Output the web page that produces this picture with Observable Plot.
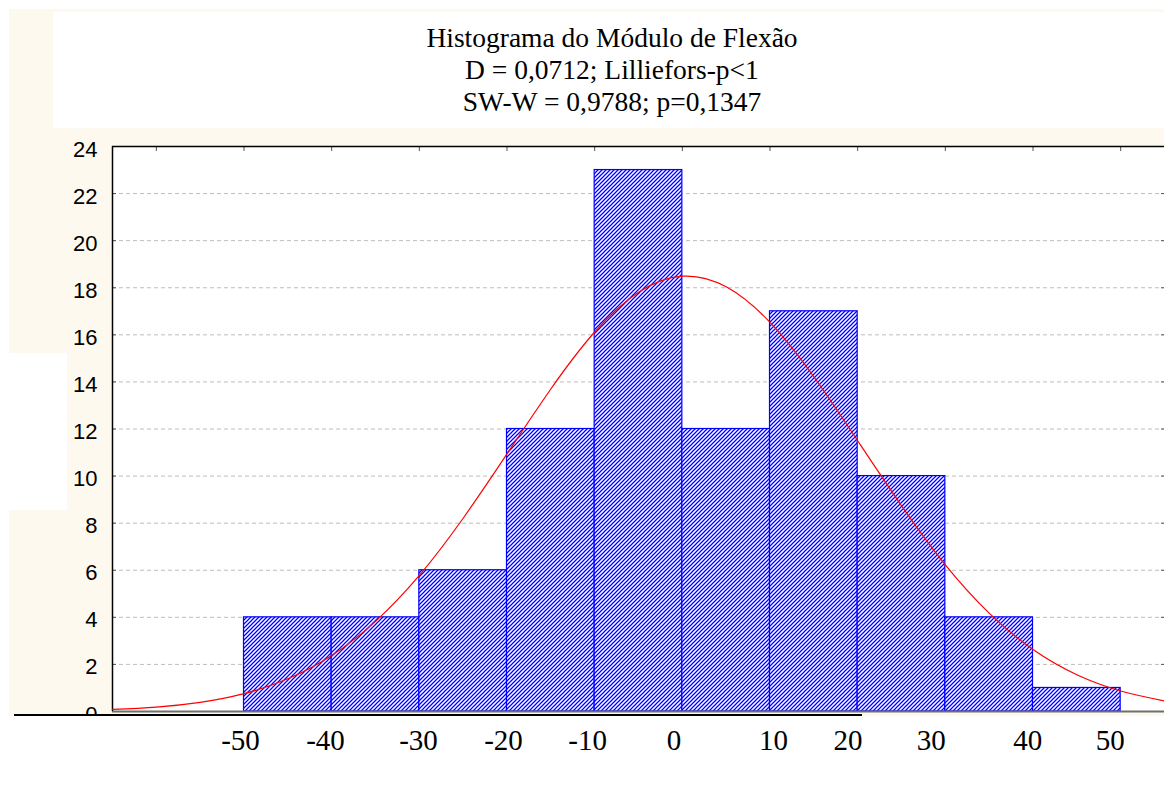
<!DOCTYPE html>
<html>
<head>
<meta charset="utf-8">
<script src="https://cdn.jsdelivr.net/npm/d3@7"></script>
<script src="https://cdn.jsdelivr.net/npm/@observablehq/plot@0.6"></script>
<style>
  html, body { margin: 0; padding: 0; background: #ffffff; }
  #wrap { position: relative; width: 1164px; height: 791px; overflow: hidden; background: #ffffff; }
  .bg { position: absolute; }
  #title { position: absolute; left: 262px; width: 700px; top: 22px; text-align: center;
           font-family: "Liberation Serif", "Times New Roman", serif; font-size: 27.5px; line-height: 32px; color: #000; }
  #chart { position: absolute; left: 0; top: 0; }
</style>
</head>
<body>
<svg width="0" height="0" style="position:absolute;">
  <defs>
    <pattern id="bluehatch" patternUnits="userSpaceOnUse" width="4" height="4">
      <rect width="4" height="4" fill="#ffffff"></rect>
      <path d="M0,4 L4,0 M-1,1 L1,-1 M3,5 L5,3" fill="none" stroke="#0000ff" stroke-width="1.25"></path>
    </pattern>
  </defs>
</svg>
<div id="wrap">
  <div class="bg" style="left:9px;top:9px;width:1155px;height:707px;background:#fdf9ee;"></div>
  <div class="bg" style="left:53px;top:12px;width:1111px;height:116px;background:#ffffff;"></div>
  <div class="bg" style="left:9px;top:353px;width:58px;height:157px;background:#ffffff;"></div>
  <div class="bg" style="left:112px;top:146px;width:1052px;height:566px;background:#ffffff;"></div>
  <div id="title">Histograma do Módulo de Flexão<br>D = 0,0712; Lilliefors-p&lt;1<br>SW-W = 0,9788; p=0,1347</div>
  <div id="chart"></div>
  <div class="bg" style="left:0px;top:716px;width:112px;height:20px;background:#ffffff;"></div>
  <div class="bg" style="left:14px;top:714px;width:848px;height:2px;background:#000000;"></div>
</div>
<script>
// ---- data ----
const binStart = [-60, -50, -40, -30, -20, -10, 0, 10, 20, 30, 40];
const binWidth = 10;
const counts   = [0, 4, 4, 6, 12, 23, 12, 17, 10, 4, 1];

// fitted normal curve
const curveX = [-65, -60, -55, -50, -45, -40, -35, -30, -25, -20, -15, -10, -5, 0, 5, 10, 15, 20, 25, 30, 35, 40, 45, 50, 55];
const curveY = [0.09, 0.19, 0.39, 0.76, 1.39, 2.38, 3.83, 5.78, 8.21, 10.94, 13.70, 16.12, 17.81, 18.49, 18.04, 16.53, 14.22, 11.50, 8.74, 6.23, 4.18, 2.63, 1.56, 0.87, 0.45];

const yTicks = [0, 2, 4, 6, 8, 10, 12, 14, 16, 18, 20, 22, 24];
const topTicks = [-60, -50, -40, -30, -20, -10, 0, 10, 20, 30, 40, 50];
// x tick labels as placed in the picture (label, position in data units)
const xLabels    = ["-50", "-40", "-30", "-20", "-10", "0", "10", "20", "30", "40", "50"];
const xLabelPos  = [-50.4, -40.7, -30.1, -20.4, -10.8, -0.95, 10.4, 18.9, 28.4, 39.4, 48.8];

const xDomain = [-65, 55];
const yDomain = [0, 24];

// ---- tables ----
const bins = binStart.map((s, i) => ({x1: s, x2: s + binWidth, count: counts[i]}));
const curve = curveX.map((x, i) => ({x, y: curveY[i]}));
const labels = xLabels.map((t, i) => ({t, x: xLabelPos[i]}));
const innerTicks = yTicks.filter(v => v > 0 && v < 24);

const chart = Plot.plot({
  width: 1164,
  height: 791,
  marginLeft: 112,
  marginRight: 0,
  marginTop: 146,
  marginBottom: 80,
  style: {background: "transparent", overflow: "visible"},
  x: {domain: xDomain, axis: null},
  y: {domain: yDomain, axis: null},
  marks: [
    Plot.gridY(innerTicks, {stroke: "#bdbdbd", strokeOpacity: 1, strokeDasharray: "4,3"}),
    Plot.tickY(innerTicks, {y: d => d, stroke: "#555", insetRight: 1048}),
    Plot.tickY(innerTicks, {y: d => d, stroke: "#555", insetLeft: 1049}),
    Plot.tickX(topTicks, {x: d => d, stroke: "#555", insetBottom: 560}),
    Plot.rectY(bins, {x1: "x1", x2: "x2", y: "count", fill: "url(#bluehatch)", stroke: "#0000ff", strokeWidth: 1.2}),
    Plot.ruleY([0], {stroke: "#6e6e6e", strokeWidth: 2}),
    Plot.ruleY([24], {stroke: "#000", strokeWidth: 1.5}),
    Plot.ruleX([-65], {stroke: "#000", strokeWidth: 1.5}),
    Plot.line(curve, {x: "x", y: "y", curve: "natural", stroke: "#ff0000", strokeWidth: 1.2}),
    Plot.text(yTicks, {y: d => d, text: d => String(d), frameAnchor: "left", textAnchor: "end", dx: -15, dy: 3,
                       fontSize: 22, fontFamily: "Liberation Sans, Arial, sans-serif", fill: "#000"}),
    Plot.text(labels, {x: "x", text: "t", frameAnchor: "bottom", dy: 38, fontSize: 29,
                       fontFamily: "Liberation Serif, Times New Roman, serif", fill: "#000"})
  ]
});
document.getElementById("chart").appendChild(chart);
</script>
</body>
</html>
